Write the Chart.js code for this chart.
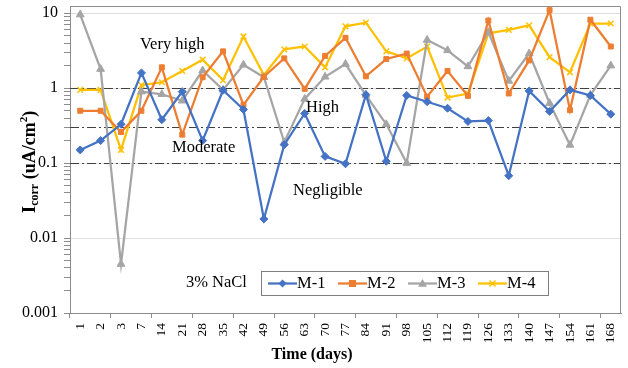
<!DOCTYPE html>
<html>
<head>
<meta charset="utf-8">
<script src="https://cdn.jsdelivr.net/npm/chart.js@4/dist/chart.umd.min.js"></script>
<style>
html,body{margin:0;padding:0;background:#fff;}
#wrap{width:628px;height:368px;}
</style>
</head>
<body>
<div id="wrap"><canvas id="chart" width="628" height="368"></canvas></div>
<script>
'use strict'
//측정일 (days)
const days = ['1','2','3','7','14','21','28','35','42','49','56','63','70','77','84','91','98','105','112','119','126','133','140','147','154','161','168'];
//시리즈 값 (uA/cm2)
const m1 = [0.15,0.2,0.33,1.6,0.38,0.9,0.2,0.94,0.52,0.018,0.176,0.46,0.123,0.098,0.82,0.106,0.8,0.66,0.54,0.36,0.37,0.068,0.92,0.49,0.95,0.8,0.45];
const m2 = [0.5,0.5,0.26,0.5,1.9,0.24,1.4,3.1,0.6,1.42,2.5,0.98,2.7,4.7,1.44,2.45,2.9,0.77,1.7,0.79,8.0,0.85,2.35,11,0.51,8.2,3.6];
const m3 = [9.6,1.8,0.0045,0.9,0.83,0.68,1.72,0.95,2.05,1.4,0.19,0.72,1.42,2.1,0.81,0.33,0.1,4.4,3.2,1.95,5.6,1.25,2.9,0.63,0.175,0.81,2.0];
const m4 = [0.95,0.95,0.15,1.1,1.2,1.7,2.4,1.28,4.9,1.5,3.3,3.6,1.9,6.7,7.5,3.1,2.5,3.6,0.75,0.85,5.4,6.0,6.9,2.6,1.63,7.3,7.3];
//축 눈금
const yMajor = [0.001,0.01,0.1,1,10];
//등급 경계선
const thresholds = [1,0.3,0.1];
const seriesNames = ['M-1','M-2','M-3','M-4'];
const seriesColors = ['#4472C4','#ED7D31','#A5A5A5','#FFC000'];
const seriesMarkers = ['rectRot','rect','triangle','crossRot'];
const seriesRadius = [4,3.5,4.5,4];

const serif = '"Liberation Serif", "Times New Roman", serif';

//범례 마커 그리기
function drawMarker(ctx, style, x, y, r, color){
    ctx.save();
    ctx.fillStyle = color;
    ctx.strokeStyle = color;
    ctx.lineWidth = 1.5;
    ctx.beginPath();
    if(style === 'rectRot'){
        ctx.moveTo(x, y - r); ctx.lineTo(x + r, y); ctx.lineTo(x, y + r); ctx.lineTo(x - r, y); ctx.closePath(); ctx.fill();
    } else if(style === 'rect'){
        ctx.rect(x - r, y - r, r * 2, r * 2); ctx.fill();
    } else if(style === 'triangle'){
        ctx.moveTo(x, y - r); ctx.lineTo(x + r, y + r * 0.7); ctx.lineTo(x - r, y + r * 0.7); ctx.closePath(); ctx.fill();
    } else {
        const d = r * 0.75;
        ctx.moveTo(x - d, y - d); ctx.lineTo(x + d, y + d);
        ctx.moveTo(x + d, y - d); ctx.lineTo(x - d, y + d); ctx.stroke();
    }
    ctx.restore();
}

//경계선, 테두리
const backPlugin = {
    id: 'backPlugin',
    beforeDatasetsDraw(chart){
        const {ctx, chartArea: a, scales: {y}} = chart;
        ctx.save();
        ctx.strokeStyle = '#404040';
        ctx.lineWidth = 1;
        ctx.setLineDash([9, 3, 2, 3]);
        thresholds.forEach((v) => {
            const py = Math.round(y.getPixelForValue(v)) + 0.5;
            ctx.beginPath();
            ctx.moveTo(a.left, py);
            ctx.lineTo(a.right, py);
            ctx.stroke();
        });
        ctx.setLineDash([]);
        ctx.strokeStyle = '#8c8c8c';
        ctx.beginPath();
        ctx.moveTo(a.left, a.top + 0.5);
        ctx.lineTo(a.right - 0.5, a.top + 0.5);
        ctx.lineTo(a.right - 0.5, a.bottom);
        ctx.stroke();
        ctx.restore();
    }
};

//라벨, 범례, 축 제목
const frontPlugin = {
    id: 'frontPlugin',
    afterDraw(chart){
        const ctx = chart.ctx;
        ctx.save();
        ctx.fillStyle = '#000';
        ctx.textBaseline = 'middle';
        ctx.textAlign = 'left';
        ctx.font = '16.5px ' + serif;
        ctx.fillText('Very high', 140, 45);
        ctx.fillText('High', 306, 108);
        ctx.fillText('Moderate', 172, 148);
        ctx.fillText('Negligible', 293, 191);
        ctx.fillText('3% NaCl', 186, 283);

        //범례
        ctx.strokeStyle = '#7f7f7f';
        ctx.lineWidth = 1;
        ctx.strokeRect(261.5, 271.5, 287, 24);
        seriesNames.forEach((name, i) => {
            const x0 = 268 + i * 70;
            ctx.strokeStyle = seriesColors[i];
            ctx.lineWidth = 2.25;
            ctx.beginPath();
            ctx.moveTo(x0, 283.5);
            ctx.lineTo(x0 + 29, 283.5);
            ctx.stroke();
            drawMarker(ctx, seriesMarkers[i], x0 + 14.5, 283.5, seriesRadius[i], seriesColors[i]);
            ctx.fillStyle = '#000';
            ctx.fillText(name, x0 + 29, 284);
        });

        //x축 제목
        ctx.font = 'bold 16px ' + serif;
        ctx.textAlign = 'center';
        ctx.fillText('Time (days)', 312, 355);

        //y축 제목
        ctx.translate(30, 162);
        ctx.rotate(-Math.PI / 2);
        const parts = [
            {t: 'I', f: 'bold 19px ', dy: 0},
            {t: 'corr', f: 'bold 12px ', dy: 5},
            {t: ' (uA/cm', f: 'bold 18px ', dy: 0},
            {t: '2', f: 'bold 11px ', dy: -6},
            {t: ')', f: 'bold 18px ', dy: 0}
        ];
        let total = 0;
        parts.forEach((p) => { ctx.font = p.f + serif; p.w = ctx.measureText(p.t).width; total += p.w; });
        let px = -total / 2;
        ctx.textAlign = 'left';
        parts.forEach((p) => {
            ctx.font = p.f + serif;
            ctx.fillText(p.t, px, p.dy);
            px += p.w;
        });
        ctx.restore();
    }
};

const datasets = [m1, m2, m3, m4].map((data, i) => ({
    label: seriesNames[i],
    data: data,
    borderColor: seriesColors[i],
    backgroundColor: seriesColors[i],
    borderWidth: 2.25,
    pointStyle: seriesMarkers[i],
    pointRadius: seriesRadius[i],
    pointBorderWidth: i === 3 ? 1.5 : 1,
    pointBackgroundColor: seriesColors[i],
    pointBorderColor: seriesColors[i],
    tension: 0,
    clip: false
}));

new Chart(document.getElementById('chart'), {
    type: 'line',
    data: { labels: days, datasets: datasets },
    options: {
        responsive: false,
        animation: false,
        events: [],
        layout: { padding: { top: 6, right: 7, left: 0, bottom: 0 } },
        plugins: { legend: { display: false }, tooltip: { enabled: false } },
        scales: {
            x: {
                type: 'category',
                offset: true,
                grid: {
                    offset: true,
                    drawOnChartArea: false,
                    tickLength: 5,
                    tickColor: (c) => (c.index !== undefined && c.index % 2 === 0) ? '#8c8c8c' : 'transparent'
                },
                border: { color: '#8c8c8c', width: 1 },
                ticks: {
                    autoSkip: false,
                    minRotation: 90,
                    maxRotation: 90,
                    padding: 5,
                    color: '#000',
                    font: { family: serif, size: 13.5 }
                },
                afterFit(scale){ scale.height = 55; scale.paddingLeft = 0; scale.paddingRight = 0; }
            },
            y: {
                type: 'logarithmic',
                min: 0.001,
                max: 12.5,
                afterBuildTicks(scale){
                    const t = [];
                    yMajor.forEach((d) => {
                        for(let k = 1; k <= 9; k++){
                            const v = k * d;
                            if(v <= 12.5) t.push({ value: v, major: k === 1 });
                        }
                    });
                    scale.ticks = t;
                },
                grid: {
                    color: (c) => (c.tick && c.tick.major) ? '#e0e0e0' : 'transparent',
                    tickColor: '#8c8c8c',
                    tickLength: 6
                },
                border: { color: '#8c8c8c', width: 1 },
                ticks: {
                    autoSkip: false,
                    padding: 6,
                    color: '#000',
                    font: { family: serif, size: 16 },
                    callback: (v) => yMajor.includes(v) ? String(v) : ''
                },
                afterFit(scale){ scale.width = 70; scale.paddingTop = 0; scale.paddingBottom = 0; }
            }
        }
    },
    plugins: [backPlugin, frontPlugin]
});
</script>
</body>
</html>
